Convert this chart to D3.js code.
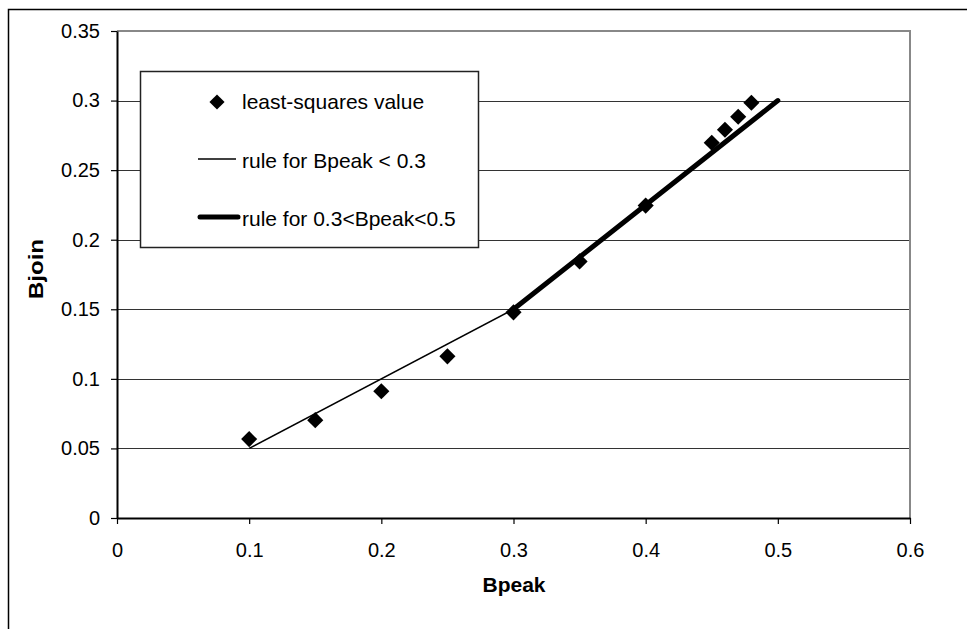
<!DOCTYPE html>
<html>
<head>
<meta charset="utf-8">
<script src="https://cdn.jsdelivr.net/npm/d3@7"></script>
<style>
  body { margin: 0; background: #fff; }
  svg { display: block; font-family: "Liberation Sans", Arial, sans-serif; }
</style>
</head>
<body>
<svg id="chart" width="967" height="629"></svg>
<script>
// least-squares points
var bpeak = [0.1, 0.15, 0.2, 0.25, 0.3, 0.35, 0.4, 0.45, 0.46, 0.47, 0.48];
var bjoin = [0.0567, 0.0703, 0.0911, 0.1162, 0.1478, 0.1844, 0.2245, 0.2697, 0.279, 0.2884, 0.2984];

// the two rules
var ruleLowX = [0.1, 0.3], ruleLowY = [0.05, 0.15];
var ruleHighX = [0.3, 0.5], ruleHighY = [0.15, 0.3];

var xTicks = [0, 0.1, 0.2, 0.3, 0.4, 0.5, 0.6];
var xTickLabels = ["0", "0.1", "0.2", "0.3", "0.4", "0.5", "0.6"];
var yTicks = [0, 0.05, 0.1, 0.15, 0.2, 0.25, 0.3, 0.35];
var yTickLabels = ["0", "0.05", "0.1", "0.15", "0.2", "0.25", "0.3", "0.35"];

var legendLabels = ["least-squares value", "rule for Bpeak < 0.3", "rule for 0.3<Bpeak<0.5"];

var svg = d3.select("#chart");

var x = d3.scaleLinear().domain([0, 0.6]).range([117, 910]);
var y = d3.scaleLinear().domain([0, 0.35]).range([518, 31]);

// outer chart border (runs off the window on right/bottom)
svg.append("rect")
  .attr("x", 8.5).attr("y", 9.5)
  .attr("width", 1000).attr("height", 700)
  .attr("fill", "none").attr("stroke", "#000").attr("stroke-width", 1.5);

// gridlines
svg.append("g").selectAll("line")
  .data(yTicks.slice(1, -1))
  .enter().append("line")
    .attr("x1", x(0)).attr("x2", x(0.6))
    .attr("y1", function(d) { return Math.round(y(d)) + 0.5; })
    .attr("y2", function(d) { return Math.round(y(d)) + 0.5; })
    .attr("stroke", "#333").attr("stroke-width", 1);

// plot area top/right border
svg.append("path")
  .attr("d", "M" + x(0) + "," + y(0.35) + "H" + x(0.6) + "V" + y(0))
  .attr("fill", "none").attr("stroke", "#888").attr("stroke-width", 2);

// axes
var xAxis = d3.axisBottom(x).tickValues(xTicks)
  .tickFormat(function(d, i) { return xTickLabels[i]; })
  .tickSize(6).tickSizeOuter(0).tickPadding(19);
var yAxis = d3.axisLeft(y).tickValues(yTicks)
  .tickFormat(function(d, i) { return yTickLabels[i]; })
  .tickSize(6).tickSizeOuter(0).tickPadding(11);

var gx = svg.append("g").attr("transform", "translate(0," + y(0) + ")").call(xAxis);
var gy = svg.append("g").attr("transform", "translate(" + x(0) + ",0)").call(yAxis);

[gx, gy].forEach(function(g) {
  g.attr("font-size", null).attr("font-family", null);
  g.select(".domain").attr("stroke", "#000").attr("stroke-width", 2);
  g.selectAll(".tick line").attr("stroke", "#000").attr("stroke-width", 1.2);
  g.selectAll(".tick text")
    .attr("fill", "#000")
    .style("font-size", "20px");
});

// rule lines
var line = d3.line()
  .x(function(d) { return x(d[0]); })
  .y(function(d) { return y(d[1]); });

svg.append("path")
  .datum(d3.zip(ruleLowX, ruleLowY))
  .attr("d", line)
  .attr("fill", "none").attr("stroke", "#000").attr("stroke-width", 1.5);

svg.append("path")
  .datum(d3.zip(ruleHighX, ruleHighY))
  .attr("d", line)
  .attr("fill", "none").attr("stroke", "#000").attr("stroke-width", 5)
  .attr("stroke-linecap", "round");

// points
var diamond = d3.symbol().type(d3.symbolSquare).size(130);
svg.append("g").selectAll("path")
  .data(d3.zip(bpeak, bjoin))
  .enter().append("path")
    .attr("d", diamond)
    .attr("transform", function(d) { return "translate(" + x(d[0]) + "," + y(d[1]) + ") rotate(45)"; })
    .attr("fill", "#000");

// legend
var legend = svg.append("g");
legend.append("rect")
  .attr("x", 140.5).attr("y", 71.5).attr("width", 338).attr("height", 176)
  .attr("fill", "#fff").attr("stroke", "#222").attr("stroke-width", 1.5);

legend.append("path")
  .attr("d", d3.symbol().type(d3.symbolSquare).size(115))
  .attr("transform", "translate(217,102) rotate(45)")
  .attr("fill", "#000");
legend.append("line")
  .attr("x1", 198).attr("x2", 236).attr("y1", 159).attr("y2", 159)
  .attr("stroke", "#000").attr("stroke-width", 1.5);
legend.append("line")
  .attr("x1", 200).attr("x2", 238).attr("y1", 217).attr("y2", 217)
  .attr("stroke", "#000").attr("stroke-width", 5).attr("stroke-linecap", "round");

legend.selectAll("text")
  .data(legendLabels)
  .enter().append("text")
    .attr("x", 242)
    .attr("y", function(d, i) { return [109, 168, 226][i]; })
    .style("font-size", "21px")
    .attr("fill", "#000")
    .text(function(d) { return d; });

// axis titles
svg.append("text")
  .attr("x", 514).attr("y", 592)
  .attr("text-anchor", "middle")
  .style("font-size", "21px").style("font-weight", "bold")
  .text("Bpeak");

svg.append("text")
  .attr("transform", "translate(43,269) rotate(-90)")
  .attr("text-anchor", "middle")
  .attr("textLength", 60).attr("lengthAdjust", "spacingAndGlyphs")
  .style("font-size", "21px").style("font-weight", "bold")
  .text("Bjoin");
</script>
</body>
</html>
